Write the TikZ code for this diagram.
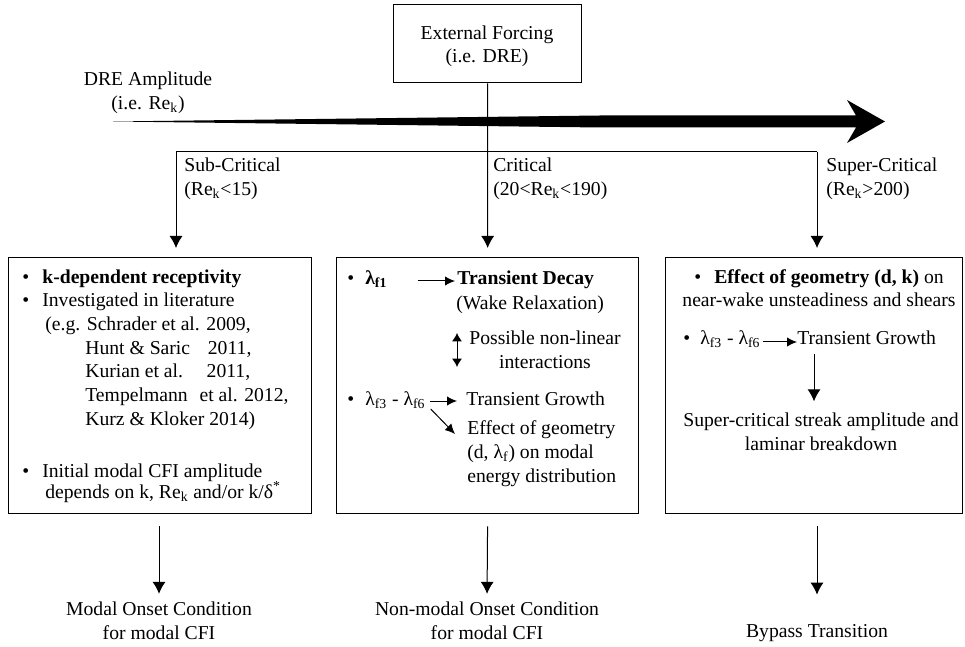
\documentclass[tikz,border=0pt]{standalone}
\usepackage{fontspec}
\setmainfont{Liberation Serif}
\usetikzlibrary{arrows.meta}

\newcommand{\bul}[1][12pt]{\makebox[#1][l]{\textbullet}}
\newcommand{\lam}[1]{λ\textsubscript{#1}}
\newcommand{\Rek}{Re\textsubscript{k}}

\begin{document}
\begin{tikzpicture}[x=0.6pt,y=-0.6pt,
 txt/.style={font=\fontsize{11.8pt}{14.2pt}\selectfont,inner sep=0pt},
 box/.style={draw,line width=0.8pt,anchor=north west,inner sep=0pt},
 arr/.style={line width=0.6pt,-{Latex[length=7.2pt,width=7.8pt]}},
 sarr/.style={line width=0.6pt,-{Latex[length=6pt,width=5.6pt]}},
 darr/.style={line width=0.6pt,{Latex[length=5pt,width=6pt]}-{Latex[length=5pt,width=6pt]}}]
 \useasboundingbox (0,0) rectangle (965,647);
 % note: base of a multi-line node sits on its last line

 % forcing and amplitude wedge
 \node[box,minimum width=112.8pt,minimum height=46.8pt] (forcing) at (393,4) {};
 \node[txt,anchor=base,align=center] (forcingtxt) at (487,63) {External Forcing\\(i.e. DRE)};
 \node[txt,anchor=base,align=center] (amp) at (148,109.5) {DRE Amplitude\\(i.e. \Rek)};
 \fill (113,121.5) -- (600,115.5) -- (856,115.5) -- (847,100) -- (885,121.5)
   -- (847,143) -- (856,127.5) -- (600,127.5) -- cycle;

 % the three regimes
 \node[box,minimum width=181.8pt,minimum height=153.6pt] (subbox) at (8,257) {};
 \node[box,minimum width=181.2pt,minimum height=153.6pt] (critbox) at (336,257) {};
 \node[box,minimum width=178.2pt,minimum height=153.6pt] (superbox) at (665,257) {};

 \coordinate (subtop) at (176,152);
 \coordinate (supertop) at (817,152);
 \draw[line width=0.6pt] (subtop) -- (supertop);
 \draw[arr,shorten >=5.4pt] (forcing.south) -- (critbox.north);
 \draw[arr,shorten >=5.4pt] (subtop) -- (subtop |- subbox.north);
 \draw[arr,shorten >=5.4pt] (supertop) -- (supertop |- superbox.north);

 \node[txt,anchor=base west,align=left] (sublbl) at (184,195.5) {Sub-Critical\\(\Rek<15)};
 \node[txt,anchor=base west,align=left] (critlbl) at (493,195.5) {Critical\\(20<\Rek<190)};
 \node[txt,anchor=base west,align=left] (superlbl) at (826,195.5) {Super-Critical\\(\Rek>200)};

 % sub-critical
 \node[txt,anchor=base west,align=left] (recept) at (22,425) {\bul\textbf{k-dependent receptivity}\\
  \bul Investigated in literature\\
  \hspace*{13.8pt}(e.g. Schrader et al. 2009,\\
  \hspace*{37.8pt}Hunt \& Saric\hspace{0.9em}2011,\\
  \hspace*{37.8pt}Kurian et al.\hspace{1.2em}2011,\\
  \hspace*{37.8pt}Tempelmann\hspace{0.6em}et al. 2012,\\
  \hspace*{37.8pt}Kurz \& Kloker 2014)};
 \node[txt,anchor=base west,align=left] (initial) at (22,498) {\bul Initial modal CFI amplitude\\[-2pt]
  \hspace*{13.8pt}depends on k, \Rek{} and/or k/δ\textsuperscript{*}};

 % critical
 \node[txt,anchor=base west] (lamA) at (347,285) {\bul[10.8pt]\textbf{\lam{f1}}};
 \node[txt,anchor=base west] (decay) at (457,285) {\textbf{Transient Decay}};
 \node[txt,anchor=base west] (wake) at (456,310) {(Wake Relaxation)};
 \node[txt,anchor=base,align=center] (nonlin) at (545,368.5) {Possible non-linear\\interactions};
 \coordinate (nlA) at (457,333);
 \coordinate (nlB) at (457,367);
 \node[txt,anchor=base west] (lamB) at (347,405) {\bul[10.8pt]\lam{f3} - \lam{f6}};
 \node[txt,anchor=base west] (growthA) at (466,405) {Transient Growth};
 \node[txt,anchor=base west,align=left] (effA) at (467,482) {Effect of geometry\\
  (d, \lam{f}) on modal\\energy distribution};
 \draw[sarr] ([shift={(18pt,2.4pt)}]lamA.base east) -- ([shift={(-1.2pt,2.4pt)}]decay.base west);
 \draw[darr] (nlA) -- (nlB);
 \draw[sarr] ([shift={(2.4pt,2.4pt)}]lamB.base east) -- ([shift={(-5.4pt,2.4pt)}]growthA.base west);
 \draw[sarr] ([shift={(3pt,-2.4pt)}]lamB.base east) -- ([xshift=-7.2pt,yshift=28.8pt]effA.base west);

 % super-critical
 \node[txt,anchor=base,align=center] (effB) at (819,307) {\bul\textbf{Effect of geometry (d, k)} on\\
  near-wake unsteadiness and shears};
 \node[txt,anchor=base west] (lamC) at (683,345) {\bul[10.2pt]\lam{f3} - \lam{f6}};
 \node[txt,anchor=base west] (growthB) at (797,345) {Transient Growth};
 \node[txt,anchor=base,align=center] (streak) at (821,450.5) {Super-critical streak amplitude and\\
  laminar breakdown};
 \coordinate (downx) at (814,0);
 \draw[sarr] ([shift={(1.2pt,1.8pt)}]lamC.base east) -- ([yshift=1.8pt]growthB.base west);
 \draw[arr,shorten <=4.8pt,shorten >=6.9pt] (downx |- growthB.south) -- (downx |- streak.north);

 % outcomes
 \node[txt,anchor=base,align=center] (modal) at (159,639) {Modal Onset Condition\\for modal CFI};
 \node[txt,anchor=base,align=center] (nonmodal) at (487,639) {Non-modal Onset Condition\\for modal CFI};
 \node[txt,anchor=base] (bypass) at (817,637) {Bypass Transition};
 \draw[arr,shorten <=7.2pt,shorten >=4.5pt] (subbox.south -| modal) -- (modal.north);
 \draw[arr,shorten <=7.2pt,shorten >=4.5pt] (critbox.south) -- (nonmodal.north);
 \draw[arr,shorten <=7.2pt,shorten >=17.4pt] (superbox.south -| bypass) -- (bypass.north);
\end{tikzpicture}
\end{document}
